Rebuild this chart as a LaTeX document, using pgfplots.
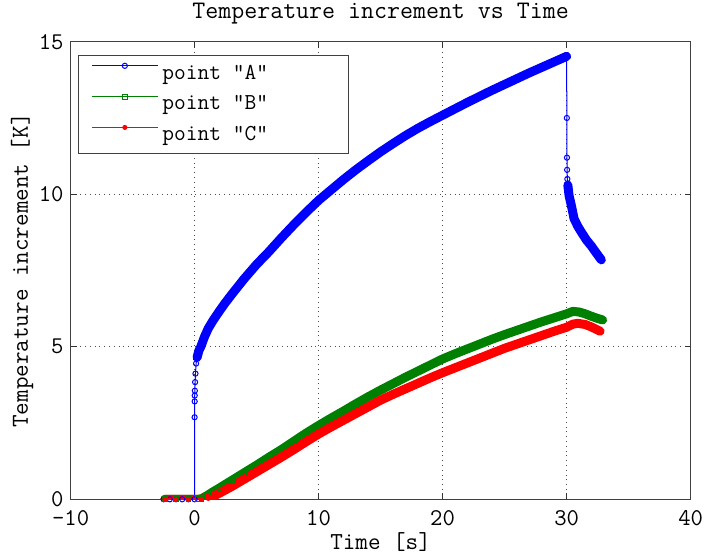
\documentclass[border=0pt]{standalone}
\usepackage{pgfplots}
\pgfplotsset{compat=1.18}
\usepackage{pgfplotstable}

\definecolor{mblue}{RGB}{0,0,255}
\definecolor{mgreen}{RGB}{0,128,0}
\definecolor{mred}{RGB}{255,0,0}

% point "A"
\pgfplotstableread{
t T
-2.5 0
-2 0
-1.5 0
-1 0
-0.5 0
0 0
0 2.69
0.005 3.21
0.01 3.40
0.02 3.56
0.04 3.84
0.07 4.12
0.12 4.45
0.2 4.65
0.35 4.88
0.5 5.0
0.8 5.33
1.1 5.6
1.5 5.87
2.0 6.17
2.4 6.4
3.0 6.72
4.0 7.23
5.0 7.7
6.0 8.12
7.0 8.57
8.0 9.0
9.0 9.41
10 9.8
11 10.14
12 10.48
13 10.8
14 11.1
15 11.39
16 11.66
17 11.92
18 12.16
19 12.38
20 12.59
21 12.8
22 13.01
23 13.21
24 13.41
25 13.6
26 13.79
27 13.98
28 14.16
29 14.34
30 14.52
30.02 12.5
30.03 11.2
30.04 10.8
30.06 10.5
30.1 10.3
30.2 9.95
30.4 9.6
30.6 9.2
30.9 8.95
31.2 8.75
31.6 8.5
32.0 8.3
32.4 8.07
32.8 7.85
}\tA

% point "B"
\pgfplotstableread{
t T
-2.4 0
-1.5 0
-0.5 0
0.3 0
0.56 0.02
1.0 0.12
1.5 0.25
2.0 0.37
3.0 0.62
4.0 0.87
5.0 1.12
6.0 1.38
7.0 1.63
8.0 1.9
9.0 2.17
10 2.42
11 2.66
12 2.89
13 3.13
14 3.36
15 3.58
16 3.79
17 4.0
18 4.2
19 4.4
20 4.6
21 4.77
22 4.93
23 5.09
24 5.25
25 5.4
26 5.54
27 5.68
28 5.82
29 5.95
30 6.08
30.5 6.16
31 6.14
31.5 6.08
32 6.0
32.5 5.93
32.9 5.88
}\tB

% point "C"
\pgfplotstableread{
t T
-2.4 0
-1.5 0
-0.5 0
0.5 0
1.1 0.03
1.5 0.1
2.0 0.2
3.0 0.42
4.0 0.66
5.0 0.9
6.0 1.14
7.0 1.38
8.0 1.63
9.0 1.89
10 2.14
11 2.37
12 2.59
13 2.81
14 3.03
15 3.25
16 3.44
17 3.62
18 3.8
19 3.98
20 4.15
21 4.31
22 4.47
23 4.63
24 4.79
25 4.95
26 5.09
27 5.23
28 5.37
29 5.51
30 5.64
30.5 5.74
30.9 5.77
31.5 5.73
32 5.65
32.4 5.57
32.7 5.51
}\tC

\begin{document}
\begin{tikzpicture}
\begin{axis}[
  at={(0,0)}, anchor=south west,
  width=310pt, height=228.8pt, scale only axis,
  xmin=-10, xmax=40, ymin=0, ymax=15,
  xtick={-10,0,10,20,30,40}, xticklabels={-10,0,10,20,30,40},
  ytick={0,5,10,15}, yticklabels={0,5,10,15},
  tick align=inside, major tick length=3pt,
  tick style={black!80, line width=0.5pt},
  axis line style={black!75, line width=0.6pt},
  grid=major, major grid style={dotted, black!70, line width=0.5pt},
  font=\ttfamily\fontsize{12}{14}\selectfont,
  xticklabel style={yshift=-2pt},
  title={Temperature increment vs Time},
  title style={at={(axis description cs:0.5,1.0341)}, anchor=center, inner sep=0pt,
    font=\ttfamily\fontsize{12.6}{14}\selectfont},
  xlabel={Time [s]},
  xlabel style={at={(axis description cs:0.5,-0.093)}, anchor=center, inner sep=0pt,
    font=\ttfamily\fontsize{12.2}{14}\selectfont},
  ylabel={Temperature increment [K]},
  ylabel style={at={(axis description cs:-0.078,0.5)}, anchor=center, inner sep=0pt,
    font=\ttfamily\fontsize{12.2}{14}\selectfont},
  legend cell align=left,
  legend style={at={(axis description cs:0.0123,0.9709)}, anchor=north west,
    draw=black!75, line width=0.6pt, inner xsep=6.2pt, inner ysep=1.4pt,
    font=\ttfamily\fontsize{11.4}{13}\selectfont,
    nodes={inner ysep=2.6pt, text height=7.7pt, text depth=2.5pt},
    column sep=0pt, row sep=0pt},
  legend image code/.code={\draw[#1, line width=0.6pt, mark repeat=2, mark phase=2, yshift=4pt]
    plot coordinates {(0pt,0pt) (16.5pt,0pt) (33pt,0pt)};},
]
\addplot[mblue, line width=0.5pt, mark=o, mark size=1.3pt,
  mark options={line width=0.5pt}] table {\tA};
\addlegendentry{point \textquotedbl A\textquotedbl\hspace*{32pt}}
\addplot[mblue, line width=4.5pt, line cap=round, line join=round, forget plot,
  unbounded coords=jump,
  x filter/.expression={((x>0.15)&&(x<30.01))||(x>30.09) ? x : nan}] table {\tA};

\addplot[mgreen, line width=0.5pt, mark=square, mark size=1.2pt,
  mark options={line width=0.5pt}] table {\tB};
\addlegendentry{point \textquotedbl B\textquotedbl}
\addplot[mgreen, line width=4.5pt, line cap=round, line join=round, forget plot] table {\tB};

\addplot[mred, line width=0.5pt, mark=*, mark size=1pt,
  mark options={line width=0.5pt}] table {\tC};
\addlegendentry{point \textquotedbl C\textquotedbl}
\addplot[mred, line width=4.5pt, line cap=round, line join=round, forget plot] table {\tC};
\end{axis}
\pgfresetboundingbox
\path[use as bounding box] (-35.3pt,-29.35pt) rectangle (316.7pt,249.65pt);
\end{tikzpicture}
\end{document}
